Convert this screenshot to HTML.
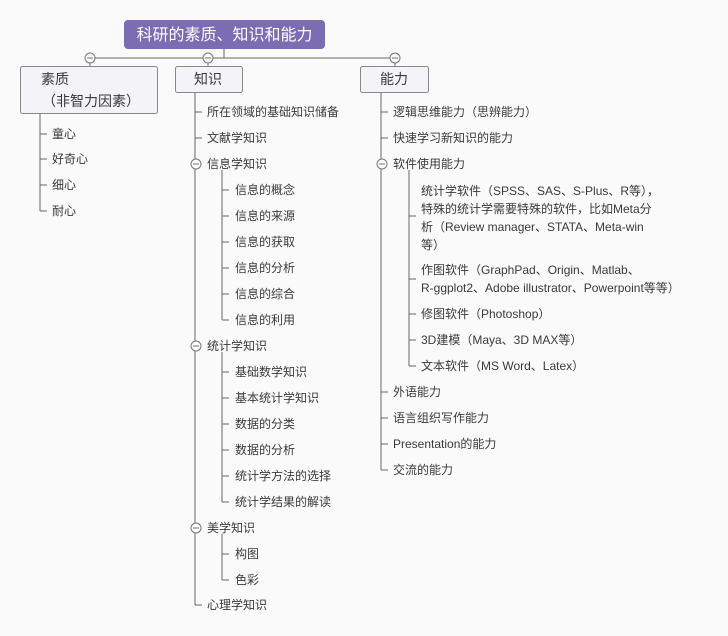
<!DOCTYPE html>
<html><head><meta charset="utf-8"><style>
html,body{margin:0;padding:0;background:#fafafb;}
svg{display:block;}
text{font-family:"Liberation Sans","Noto Sans CJK SC",sans-serif;font-size:12px;fill:#3a3a3a;}
</style></head><body>
<svg width="728" height="636" viewBox="0 0 728 636" xmlns="http://www.w3.org/2000/svg">
<rect width="728" height="636" fill="#fafafb"/>
<g stroke="#666" stroke-width="1" fill="none">
<line x1="224" y1="49" x2="224" y2="58"/>
<line x1="90" y1="58" x2="395" y2="58"/>
<line x1="90" y1="58" x2="90" y2="66"/><line x1="208" y1="58" x2="208" y2="66"/><line x1="395" y1="58" x2="395" y2="66"/>
<!-- 素质 -->
<line x1="40" y1="113" x2="40" y2="211"/>
<line x1="40" y1="134" x2="47" y2="134"/><line x1="40" y1="159" x2="47" y2="159"/><line x1="40" y1="185" x2="47" y2="185"/><line x1="40" y1="211" x2="47" y2="211"/>
<!-- 知识 -->
<line x1="195" y1="92" x2="195" y2="605"/>
<line x1="195" y1="112" x2="202" y2="112"/><line x1="195" y1="138" x2="202" y2="138"/><line x1="195" y1="605" x2="202" y2="605"/>
<line x1="222" y1="170" x2="222" y2="320"/>
<line x1="222" y1="190" x2="229" y2="190"/><line x1="222" y1="216" x2="229" y2="216"/><line x1="222" y1="242" x2="229" y2="242"/><line x1="222" y1="268" x2="229" y2="268"/><line x1="222" y1="294" x2="229" y2="294"/><line x1="222" y1="320" x2="229" y2="320"/>
<line x1="222" y1="352" x2="222" y2="502"/>
<line x1="222" y1="372" x2="229" y2="372"/><line x1="222" y1="398" x2="229" y2="398"/><line x1="222" y1="424" x2="229" y2="424"/><line x1="222" y1="450" x2="229" y2="450"/><line x1="222" y1="476" x2="229" y2="476"/><line x1="222" y1="502" x2="229" y2="502"/>
<line x1="222" y1="534" x2="222" y2="580"/>
<line x1="222" y1="554" x2="229" y2="554"/><line x1="222" y1="580" x2="229" y2="580"/>
<!-- 能力 -->
<line x1="381" y1="92" x2="381" y2="470"/>
<line x1="381" y1="112" x2="388" y2="112"/><line x1="381" y1="138" x2="388" y2="138"/>
<line x1="381" y1="392" x2="388" y2="392"/><line x1="381" y1="418" x2="388" y2="418"/><line x1="381" y1="444" x2="388" y2="444"/><line x1="381" y1="470" x2="388" y2="470"/>
<line x1="409" y1="170" x2="409" y2="366"/>
<line x1="409" y1="216" x2="416" y2="216"/><line x1="409" y1="279" x2="416" y2="279"/><line x1="409" y1="314" x2="416" y2="314"/><line x1="409" y1="340" x2="416" y2="340"/><line x1="409" y1="366" x2="416" y2="366"/>
</g>
<!-- collapse circles -->
<g stroke="#777" stroke-width="1" fill="#fafafb">
<circle cx="90" cy="58" r="5"/><circle cx="208" cy="58" r="5"/><circle cx="395" cy="58" r="5"/>
<circle cx="196" cy="164" r="5"/><circle cx="196" cy="346" r="5"/><circle cx="196" cy="528" r="5"/><circle cx="382" cy="164" r="5"/>
</g>
<g stroke="#777" stroke-width="1">
<line x1="87" y1="58" x2="93" y2="58"/><line x1="205" y1="58" x2="211" y2="58"/><line x1="392" y1="58" x2="398" y2="58"/>
<line x1="193" y1="164" x2="199" y2="164"/><line x1="193" y1="346" x2="199" y2="346"/><line x1="193" y1="528" x2="199" y2="528"/><line x1="379" y1="164" x2="385" y2="164"/>
</g>
<!-- title -->
<rect x="124" y="20" width="201" height="29" rx="4" fill="#7a6db3"/>
<text x="224.5" y="40" text-anchor="middle" style="font-size:16px;fill:#fff">科研的素质、知识和能力</text>
<!-- boxes -->
<g fill="#f3f3f8" stroke="#888" stroke-width="1">
<rect x="20.5" y="66.5" width="137" height="47" rx="2"/>
<rect x="175.5" y="66.5" width="67" height="26" rx="2"/>
<rect x="360.5" y="66.5" width="68" height="26" rx="2"/>
</g>
<text x="41" y="84" style="font-size:14px">素质</text>
<text x="42" y="106" style="font-size:14px">（非智力因素）</text>
<text x="194" y="84" style="font-size:14px">知识</text>
<text x="380" y="84" style="font-size:14px">能力</text>
<!-- 素质 items -->
<text x="52" y="138">童心</text><text x="52" y="163">好奇心</text><text x="52" y="189">细心</text><text x="52" y="215">耐心</text>
<!-- 知识 items -->
<text x="207" y="116">所在领域的基础知识储备</text>
<text x="207" y="142">文献学知识</text>
<text x="207" y="168">信息学知识</text>
<text x="235" y="194">信息的概念</text><text x="235" y="220">信息的来源</text><text x="235" y="246">信息的获取</text><text x="235" y="272">信息的分析</text><text x="235" y="298">信息的综合</text><text x="235" y="324">信息的利用</text>
<text x="207" y="350">统计学知识</text>
<text x="235" y="376">基础数学知识</text><text x="235" y="402">基本统计学知识</text><text x="235" y="428">数据的分类</text><text x="235" y="454">数据的分析</text><text x="235" y="480">统计学方法的选择</text><text x="235" y="506">统计学结果的解读</text>
<text x="207" y="532">美学知识</text>
<text x="235" y="558">构图</text><text x="235" y="584">色彩</text>
<text x="207" y="609">心理学知识</text>
<!-- 能力 items -->
<text x="393" y="116">逻辑思维能力（思辨能力）</text>
<text x="393" y="142">快速学习新知识的能力</text>
<text x="393" y="168">软件使用能力</text>
<text x="421" y="195">统计学软件（SPSS、SAS、S-Plus、R等），</text>
<text x="421" y="213">特殊的统计学需要特殊的软件，比如Meta分</text>
<text x="421" y="231">析（Review manager、STATA、Meta-win</text>
<text x="421" y="249">等）</text>
<text x="421" y="274">作图软件（GraphPad、Origin、Matlab、</text>
<text x="421" y="292">R-ggplot2、Adobe illustrator、Powerpoint等等）</text>
<text x="421" y="318">修图软件（Photoshop）</text>
<text x="421" y="344">3D建模（Maya、3D MAX等）</text>
<text x="421" y="370">文本软件（MS Word、Latex）</text>
<text x="393" y="396">外语能力</text>
<text x="393" y="422">语言组织写作能力</text>
<text x="393" y="448">Presentation的能力</text>
<text x="393" y="474">交流的能力</text>
</svg>
</body></html>
